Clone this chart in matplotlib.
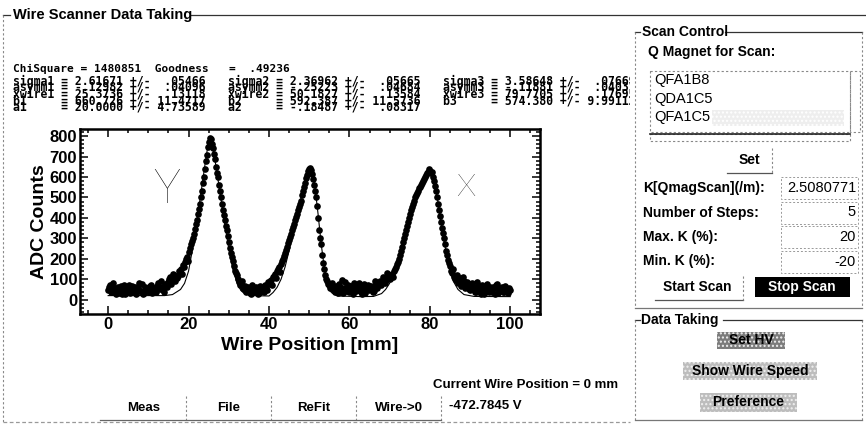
import numpy as np
import matplotlib.pyplot as plt
from matplotlib.patches import Rectangle
from matplotlib.ticker import MultipleLocator

# wire scan (mm) and ADC counts, two readings per step
positions = np.arange(0, 100.5, 0.5)
counts = [
    48, 70, 36, 58, 30, 64, 45, 26, 72, 42,
    55, 33, 68, 40, 28, 60, 44, 76, 35, 52,
    47, 65, 32, 57, 40, 82, 50, 62, 38, 70,
    88, 110, 95, 120, 105, 140, 150, 168, 185, 210,
    235, 270, 300, 345, 390, 445, 500, 570, 640, 710,
    770, 785, 740, 690, 620, 560, 500, 440, 390, 340,
    280, 230, 190, 140, 120, 85, 75, 58, 66, 45,
    52, 30, 62, 38, 55, 34, 60, 42, 70, 48,
    78, 96, 110, 125, 140, 158, 175, 200, 230, 260,
    290, 320, 355, 390, 420, 455, 485, 530, 570, 610,
    640, 635, 590, 530, 460, 340, 270, 180, 120, 90,
    70, 55, 62, 40, 50, 78, 45, 35, 88, 52,
    40, 66, 30, 58, 46, 82, 38, 60, 34, 72,
    50, 64, 42, 78, 70, 90, 85, 100, 97, 120,
    100, 125, 140, 160, 185, 220, 260, 300, 340, 380,
    420, 455, 485, 510, 530, 550, 570, 590, 610, 625,
    630, 625, 580, 530, 470, 410, 350, 300, 240, 195,
    165, 130, 112, 95, 80, 105, 70, 90, 60, 75,
    48, 80, 55, 36, 66, 45, 72, 30, 58, 42,
    64, 38, 55, 70, 32, 50, 62, 40, 56, 34,
    45,
]
positions_b = np.arange(0.25, 100, 0.5)
counts_b = [
    62, 40, 80, 52, 44, 35, 66, 58, 30, 49,
    72, 46, 38, 64, 50, 84, 42, 30, 61, 55,
    36, 74, 52, 44, 66, 58, 90, 48, 75, 64,
    100, 78, 126, 92, 118, 135, 128, 160, 200, 190,
    255, 285, 320, 370, 420, 470, 530, 600, 680, 745,
    790, 760, 715, 650, 600, 530, 470, 415, 360, 310,
    255, 210, 165, 130, 100, 72, 90, 50, 40, 62,
    35, 70, 48, 60, 28, 66, 50, 36, 58, 85,
    90, 70, 118, 108, 150, 135, 190, 215, 245, 275,
    305, 340, 370, 405, 440, 470, 510, 550, 595, 630,
    645, 615, 560, 500, 400, 300, 220, 150, 100, 75,
    58, 82, 48, 66, 35, 60, 95, 55, 42, 70,
    58, 48, 80, 42, 70, 55, 30, 75, 50, 45,
    68, 38, 90, 56, 84, 72, 110, 80, 130, 105,
    120, 112, 150, 175, 200, 240, 280, 320, 360, 400,
    440, 470, 500, 520, 545, 560, 580, 600, 620, 640,
    620, 600, 555, 500, 440, 380, 325, 270, 220, 180,
    140, 150, 100, 120, 90, 65, 110, 55, 85, 50,
    70, 60, 40, 85, 52, 30, 62, 50, 78, 36,
    48, 60, 30, 75, 45, 58, 36, 66, 42, 55,
]

# fitted curve
fit_pos = [0, 14, 16, 18, 19, 20, 21, 22, 23, 24, 24.7, 25.4, 26.1, 27, 28, 29, 30, 31, 32, 33, 34, 36,
           40, 41, 42, 43, 44, 45, 46, 47, 48, 49, 49.6, 50.2, 50.8, 51.5, 52.2, 53, 53.8, 54.5, 55.5, 57,
           63, 66, 68, 69, 70, 71, 72, 73, 74, 75, 76, 77, 78, 79, 79.8, 80.6, 81.3, 82, 82.8, 83.6,
           84.4, 85.2, 86, 87, 88.5, 91, 100]
fit_counts = [20, 20, 25, 50, 80, 140, 250, 380, 510, 650, 740, 775, 740, 630, 500, 370, 250, 150, 85, 45, 28, 20,
              18, 35, 60, 100, 160, 240, 330, 420, 500, 580, 625, 640, 620, 540, 420, 270, 150, 80, 35, 18,
              15, 16, 30, 50, 80, 130, 190, 270, 350, 420, 480, 530, 575, 610, 628, 615, 560, 480, 380, 280,
              200, 130, 85, 50, 25, 16, 15]

x_ticks = [0, 20, 40, 60, 80, 100]
y_ticks = [0, 100, 200, 300, 400, 500, 600, 700, 800]

chi_line = "ChiSquare = 1480851  Goodness   =  .49236"
fit_cols = [
    ["sigma1 = 2.61671 +/-  .05466",
     "asymm1 = -.12982 +/-  .04096",
     "xwire1 = 25.3736 +/-  .13118",
     "b1     = 660.726 +/- 11.4717",
     "a1     = 20.0000 +/- 4.73589"],
    ["sigma2 = 2.36962 +/-  .05665",
     "asymm2 = -.25223 +/-  .04684",
     "xwire2 = 50.1827 +/-  .13584",
     "b2     = 592.387 +/- 11.5736",
     "a2     = -.18487 +/-  .08317"],
    ["sigma3 = 3.58648 +/-  .07669",
     "asymm3 = -.11881 +/-  .04037",
     "xwire3 = 79.7705 +/-  .17695",
     "b3     = 574.380 +/- 9.99112"],
]
magnets = ["QFA1B8", "QDA1C5", "QFA1C5"]
scan_labels = ["K[QmagScan](/m):", "Number of Steps:", "Max. K (%):", "Min. K (%):"]
scan_values = ["2.5080771", "5", "20", "-20"]
bottom_buttons = ["Meas", "File", "ReFit", "Wire->0"]

SANS = "Liberation Sans"
MONO = "DejaVu Sans Mono"

fig = plt.figure(figsize=(8.66, 4.29), dpi=100)
fig.patch.set_facecolor("white")

# full-figure axes in pixel coordinates for the GUI frame
ui = fig.add_axes([0, 0, 1, 1])
ui.set_xlim(0, 866)
ui.set_ylim(429, 0)
ui.axis("off")

def hline(x0, x1, y, **kw):
    ui.plot([x0, x1], [y, y], color=kw.get("color", "#333333"),
            lw=kw.get("lw", 0.9), ls=kw.get("ls", "-"), zorder=kw.get("z", 5))

def vline(x, y0, y1, **kw):
    ui.plot([x, x], [y0, y1], color=kw.get("color", "#888888"),
            lw=kw.get("lw", 0.8), ls=kw.get("ls", (0, (2, 2))), zorder=kw.get("z", 5))

def btext(x, y, s, size=10, ha="left", color="black", z=6, weight="bold"):
    ui.text(x, y, s, fontsize=size, fontweight=weight, family=SANS, ha=ha,
            va="center", color=color, zorder=z)

# main frame
hline(3, 10, 15)
btext(13, 15, "Wire Scanner Data Taking", size=10.5)
hline(190, 866, 15)
vline(3, 15, 422)
hline(3, 630, 422, color="#999999", ls=(0, (3, 2)))

# fit results
ui.text(13, 69, chi_line, fontsize=8, fontweight="bold", family=MONO, va="center", zorder=2)
for c, lines in enumerate(fit_cols):
    for i, s in enumerate(lines):
        ui.text(13 + 215 * c, 81 + 6.6 * i, s, fontsize=8.3, fontweight="bold",
                family=MONO, va="center", zorder=2)

# right panel cover (clips the third column)
ui.add_patch(Rectangle((630, 18), 236, 411, facecolor="white", edgecolor="none", zorder=3))

# Scan Control box
hline(635, 640, 32)
btext(642, 32, "Scan Control")
hline(725, 862, 32)
vline(635, 32, 308)
vline(862, 32, 308)
hline(635, 862, 308, color="#777777")
btext(648, 52, "Q Magnet for Scan:")
ui.add_patch(Rectangle((650, 71), 200, 61, facecolor="none", edgecolor="#888888",
                       lw=0.8, ls=(0, (2, 2)), zorder=5))
ui.add_patch(Rectangle((850, 71), 10, 61, facecolor="none", edgecolor="#888888",
                       lw=0.8, ls=(0, (2, 2)), zorder=5))
ui.add_patch(Rectangle((650, 134), 200, 7, facecolor="none", edgecolor="#888888",
                       lw=0.8, ls=(0, (2, 2)), zorder=5))
hline(650, 850, 134, color="#222222", lw=1.2)
ui.add_patch(Rectangle((712, 110), 132, 16, facecolor="#eeeeee", edgecolor="#ffffff",
                       hatch="....", lw=0, zorder=4))
for i, m in enumerate(magnets):
    btext(654, 80 + 18.5 * i, m, size=10.5, weight="normal")

btext(749, 160, "Set", ha="center")
hline(727, 772, 173, color="#555555")
vline(772, 148, 173)

for i, (lab, val) in enumerate(zip(scan_labels, scan_values)):
    y = 188 + 24.5 * i
    btext(643, y, lab)
    ui.add_patch(Rectangle((781, y - 11), 77, 22, facecolor="none", edgecolor="#999999",
                           lw=0.7, ls=(0, (2, 2)), zorder=5))
    btext(856, y, val, size=10.5, ha="right", weight="normal")

btext(697, 287, "Start Scan", ha="center")
hline(655, 743, 300, color="#555555")
vline(743, 276, 300)
ui.add_patch(Rectangle((755, 277), 95, 20, facecolor="black", edgecolor="none", zorder=5))
btext(802, 287, "Stop Scan", ha="center", color="white")

# Data Taking box
hline(635, 640, 320)
btext(641, 320, "Data Taking")
hline(723, 862, 320)
vline(635, 320, 420)
vline(862, 320, 420)
hline(635, 862, 420, color="#777777")
for (x0, y0, w, h, fc, label) in [(717, 332, 68, 17, "#7c7c7c", "Set HV"),
                                  (683, 362, 134, 18, "#bdbdbd", "Show Wire Speed"),
                                  (700, 393, 97, 19, "#bdbdbd", "Preference")]:
    ui.add_patch(Rectangle((x0, y0), w, h, facecolor=fc, edgecolor="#f0f0f0",
                           hatch="....", lw=0, zorder=5))
    btext(x0 + w / 2, y0 + h / 2, label, ha="center")

# bottom status and buttons
btext(433, 385, "Current Wire Position = 0 mm", size=9.5)
for i, b in enumerate(bottom_buttons):
    btext(144 + 85 * i, 408, b, ha="center", size=9.5)
for x in [186, 271, 356, 441]:
    vline(x, 396, 420)
hline(100, 441, 420, color="#666666")
btext(449, 406, "-472.7845 V", size=9.5)

# the scan plot
ax = fig.add_axes([80 / 866, 1 - 314 / 429, 460 / 866, 185 / 429])
ax.plot(positions, counts, "o", color="black", ms=4.8, mew=0, zorder=3)
ax.plot(positions_b, counts_b, "o", color="black", ms=4.8, mew=0, zorder=3)
ax.plot(fit_pos, fit_counts, color="black", lw=0.8, zorder=2)
ax.set_xlim(-7, 107.4)
ax.set_ylim(-70, 835)
ax.set_xticks(x_ticks)
ax.set_yticks(y_ticks)
ax.xaxis.set_minor_locator(MultipleLocator(5))
ax.yaxis.set_minor_locator(MultipleLocator(20))
ax.tick_params(which="both", direction="in", top=True, right=True, width=1.1)
ax.tick_params(which="major", length=6, labelsize=12, pad=2)
ax.tick_params(which="minor", length=3)
for lab in ax.get_xticklabels() + ax.get_yticklabels():
    lab.set_fontweight("bold")
    lab.set_family(SANS)
for sp in ax.spines.values():
    sp.set_linewidth(1.8)
ax.set_xlabel("Wire Position [mm]", fontsize=14, fontweight="bold", family=SANS, labelpad=4)
ax.set_ylabel("ADC Counts", fontsize=14, fontweight="bold", family=SANS, labelpad=1)
ax.text(14.6, 535, "Y", fontsize=34, ha="center", va="center", family="Lato",
        fontweight="light")
ax.text(88.9, 550, "X", fontsize=23, ha="center", va="center", family="Lato",
        fontweight="light")

fig.savefig("out.png", dpi=100, facecolor="white")
